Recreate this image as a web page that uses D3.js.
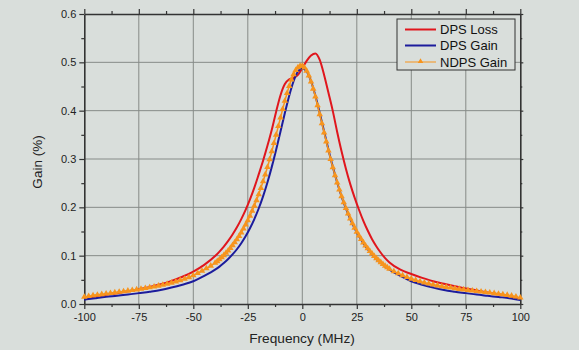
<!DOCTYPE html>
<html><head><meta charset="utf-8">
<script src="https://cdn.jsdelivr.net/npm/d3@7"></script>
<style>
html,body{margin:0;padding:0;background:#d9dedb;}
svg{display:block;font-family:"Liberation Sans",Arial,sans-serif;}
</style></head>
<body>
<svg id="chart" width="579" height="350"></svg>
<script>
// ---- data ----
const seriesNames = ["DPS Loss", "DPS Gain", "NDPS Gain"];
const xTicks = [-100, -75, -50, -25, 0, 25, 50, 75, 100];
const yTicks = [0.0, 0.1, 0.2, 0.3, 0.4, 0.5, 0.6];

const lineFreq = [-100,-95,-90,-85,-80,-75,-70,-65,-60,-55,-50,-45,
  -40,-38,-36,-34,-32,-30,-28,-26,-24,-22,-20,-18,-16,-14,-12,-10,-8,-6,-4,-2,
  0,2,4,6,8,10,12,14,16,18,20,22,24,26,28,30,32,34,36,38,40,
  45,50,55,60,65,70,75,80,85,90,95,100];

const dpsLoss = [0.0126,0.0155,0.0189,0.0223,0.0262,0.0307,0.0352,0.0408,0.0477,0.0563,0.0671,0.0810,
  0.0992,0.1085,0.1189,0.1306,0.1438,0.1588,0.1757,0.1948,0.2164,0.2408,0.2682,0.2964,0.3272,0.3605,0.398,0.432,0.455,0.465,0.468,0.474,
  0.488,0.503,0.514,0.5185,0.505,0.474,0.437,0.399,0.356,0.316,0.280,0.248,0.220,0.195,0.172,0.152,0.134,0.119,0.106,0.095,0.086,
  0.071,0.062,0.054,0.047,0.042,0.037,0.032,0.028,0.024,0.020,0.016,0.011];

const dpsGain = [0.009,0.012,0.0148,0.017,0.0195,0.0225,0.0255,0.029,0.034,0.040,0.047,0.058,
  0.0710,0.0774,0.0847,0.0930,0.1025,0.1133,0.1258,0.1401,0.1566,0.1757,0.1976,0.2228,0.2515,0.2837,0.3192,0.3569,0.3951,0.4310,0.4609,0.4809,
  0.488,0.4809,0.4609,0.4310,0.3951,0.3569,0.3192,0.2837,0.2515,0.2228,0.1976,0.1757,0.1566,0.1401,0.1258,0.1133,0.1025,0.0930,0.0847,0.0774,0.0710,
  0.058,0.047,0.040,0.034,0.029,0.0255,0.0225,0.0195,0.017,0.0145,0.012,0.0085];

const ndpsFreq = [-100,-98,-96,-94,-92,-90,-88,-86,-84,-82,-80,-78,-76,-74,-72,-70,-68,-66,-64,-62,-60,-58,-56,-54,-52,-50,-48,-46,-44,-42,
  -40,-39,-38,-37,-36,-35,-34,-33,-32,-31,-30,-29,-28,-27,-26,-25,-24,-23,-22,-21,-20,-19,-18,-17,-16,-15,-14,-13,-12,-11,-10,-9,-8,-7,-6,-5,-4,-3,-2,-1,
  0,1,2,3,4,5,6,7,8,9,10,11,12,13,14,15,16,17,18,19,20,21,22,23,24,25,26,27,28,29,30,31,32,33,34,35,36,37,38,39,40,
  42,44,46,48,50,52,54,56,58,60,62,64,66,68,70,72,74,76,78,80,82,84,86,88,90,92,94,96,98,100];

const ndpsGain = [0.0145,0.0161,0.0176,0.0189,0.0201,0.0213,0.0225,0.0237,0.0249,0.0261,0.0273,0.0286,0.0299,0.0313,0.0328,0.0343,0.0359,0.0377,0.0396,0.0416,0.0438,0.0462,0.0490,0.0520,0.0553,0.0590,0.0636,0.0684,0.0735,0.0790,
  0.0848,0.0884,0.0923,0.0964,0.1008,0.1055,0.1104,0.1157,0.1214,0.1274,0.1337,0.1406,0.1479,0.1557,0.1640,0.1728,0.1823,0.1924,0.2031,0.2146,0.2268,0.2398,0.2535,0.2679,0.2831,0.2990,0.3155,0.3326,0.3501,0.3679,0.3856,0.4031,0.4201,0.4361,0.4509,0.4640,0.4750,0.4837,0.4896,0.4926,
  0.4926,0.4891,0.4823,0.4725,0.4600,0.4453,0.4288,0.4110,0.3925,0.3736,0.3545,0.3357,0.3173,0.2996,0.2825,0.2663,0.2509,0.2364,0.2228,0.2100,0.1981,0.1869,0.1765,0.1667,0.1577,0.1492,0.1413,0.1340,0.1271,0.1207,0.1148,0.1092,0.1040,0.0991,0.0945,0.0902,0.0862,0.0824,0.0789,0.0755,0.0724,
  0.0675,0.0632,0.0592,0.0555,0.0522,0.0493,0.0466,0.0442,0.0420,0.0400,0.0382,0.0365,0.0350,0.0336,0.0322,0.0310,0.0298,0.0287,0.0276,0.0265,0.0255,0.0244,0.0233,0.0222,0.0210,0.0198,0.0185,0.0170,0.0152,0.0130];

// ---- drawing ----
const colors = ["#e0161d", "#1c1c9c", "#f7941d"];
const bg = "#d9dedb";
const L = 84.3, R = 520.3, T = 14, B = 304;
const svg = d3.select("#chart");
svg.append("rect").attr("width",579).attr("height",350).attr("fill",bg);

const x = d3.scaleLinear().domain([-100,100]).range([L,R]);
const y = d3.scaleLinear().domain([0,0.6]).range([B,T]);

// grid
const grid = svg.append("g").attr("stroke","#868b88").attr("stroke-width",1);
xTicks.slice(1,-1).forEach(v=>grid.append("line").attr("x1",x(v)).attr("x2",x(v)).attr("y1",T).attr("y2",B));
yTicks.slice(1,-1).forEach(v=>grid.append("line").attr("y1",y(v)).attr("y2",y(v)).attr("x1",L).attr("x2",R));

const minorX = d3.range(-87.5, 100, 25);
const minorY = d3.range(0.05, 0.6, 0.1);
const axisColor = "#333";
const fmtX = d => String(d);

function styleAxis(g){
  g.selectAll("path").attr("stroke",axisColor).attr("stroke-width",1.6);
  g.selectAll("line").attr("stroke",axisColor).attr("stroke-width",1.2);
  g.selectAll("text").attr("fill","#222").style("font-size","11px").style("font-family","'Liberation Sans',Arial,sans-serif");
}

// bottom
svg.append("g").attr("transform",`translate(0,${B})`)
  .call(d3.axisBottom(x).tickValues(xTicks).tickSize(5).tickSizeOuter(0).tickPadding(4).tickFormat(fmtX))
  .call(styleAxis);
svg.append("g").attr("transform",`translate(0,${B})`)
  .call(d3.axisBottom(x).tickValues(minorX).tickSize(3).tickSizeOuter(0).tickFormat(""))
  .call(styleAxis).select("path").remove();
// top
svg.append("g").attr("transform",`translate(0,${T})`)
  .call(d3.axisTop(x).tickValues(xTicks).tickSize(5).tickSizeOuter(0).tickFormat(""))
  .call(styleAxis);
svg.append("g").attr("transform",`translate(0,${T})`)
  .call(d3.axisTop(x).tickValues(minorX).tickSize(3).tickSizeOuter(0).tickFormat(""))
  .call(styleAxis).select("path").remove();
// left
svg.append("g").attr("transform",`translate(${L},0)`)
  .call(d3.axisLeft(y).tickValues(yTicks).tickSize(5).tickSizeOuter(0).tickPadding(3).tickFormat(d3.format(".1f")))
  .call(styleAxis);
svg.append("g").attr("transform",`translate(${L},0)`)
  .call(d3.axisLeft(y).tickValues(minorY).tickSize(3).tickSizeOuter(0).tickFormat(""))
  .call(styleAxis).select("path").remove();
// right
svg.append("g").attr("transform",`translate(${R},0)`)
  .call(d3.axisRight(y).tickValues(yTicks).tickSize(3).tickSizeOuter(0).tickFormat(""))
  .call(styleAxis);
svg.append("g").attr("transform",`translate(${R},0)`)
  .call(d3.axisRight(y).tickValues(minorY).tickSize(2).tickSizeOuter(0).tickFormat(""))
  .call(styleAxis).select("path").remove();

// axis titles
svg.append("text").attr("x",302).attr("y",342.5).attr("text-anchor","middle")
  .attr("fill","#222").style("font-size","13.7px").text("Frequency (MHz)");
svg.append("text").attr("transform",`translate(41.5,162) rotate(-90)`).attr("text-anchor","middle")
  .attr("fill","#222").style("font-size","13.5px").text("Gain (%)");

// series
const plot = svg.append("g");
const smooth = d3.line().x(d=>x(d[0])).y(d=>y(d[1])).curve(d3.curveMonotoneX);
const lossPts = lineFreq.map((f,i)=>[f,dpsLoss[i]]);
const gainPts = lineFreq.map((f,i)=>[f,dpsGain[i]]);
const ndpsPts = ndpsFreq.map((f,i)=>[f,ndpsGain[i]]);

plot.append("path").datum(lossPts).attr("d",smooth).attr("fill","none").attr("stroke",colors[0]).attr("stroke-width",2);
plot.append("path").datum(gainPts).attr("d",smooth).attr("fill","none").attr("stroke",colors[1]).attr("stroke-width",2);
plot.append("path").datum(ndpsPts).attr("d",smooth)
  .attr("fill","none").attr("stroke",colors[2]).attr("stroke-width",1.5);
const tri = d3.symbol().type(d3.symbolTriangle).size(18);
plot.selectAll(".m").data(ndpsPts).enter().append("path")
  .attr("transform",d=>`translate(${x(d[0])},${y(d[1])})`).attr("d",tri).attr("fill",colors[2]);

// legend
const lg = svg.append("g");
lg.append("rect").attr("x",397).attr("y",19).attr("width",118).attr("height",51)
  .attr("fill",bg).attr("stroke","#333").attr("stroke-width",1);
const rowsY = [29.5, 45.5, 62];
seriesNames.forEach((n,i)=>{
  lg.append("line").attr("x1",405).attr("x2",436).attr("y1",rowsY[i]).attr("y2",rowsY[i])
    .attr("stroke",colors[i]).attr("stroke-width", i<2 ? 2 : 1);
  if(i===2){
    lg.append("path").attr("transform",`translate(420.5,${rowsY[i]-0.5})`).attr("d",d3.symbol().type(d3.symbolTriangle).size(13)).attr("fill",colors[2]);
  }
  lg.append("text").attr("x",440).attr("y",rowsY[i]+4.5).attr("fill","#111")
    .style("font-size","13px").text(n);
});
</script>
</body></html>
